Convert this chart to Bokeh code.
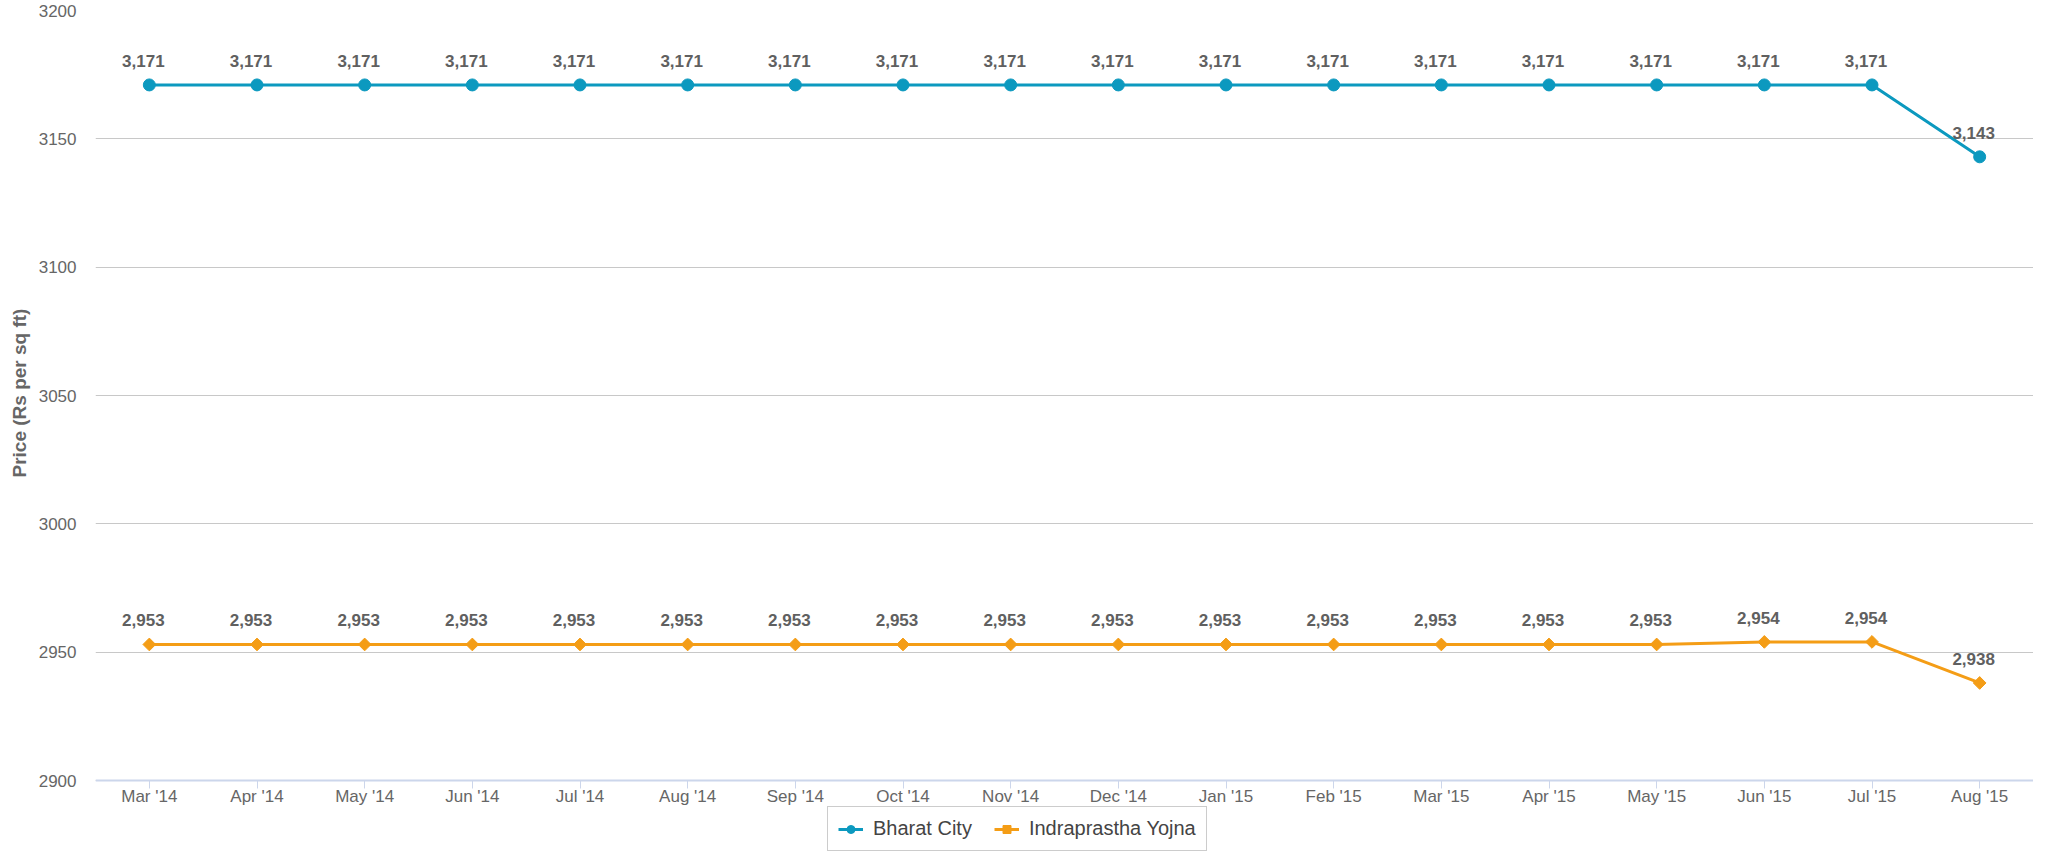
import math
from bokeh.plotting import figure
from bokeh.models import ColumnDataSource, LabelSet, Legend, LegendItem, SingleIntervalTicker, Range1d, Title
from bokeh.core.properties import value
from bokeh.embed import file_html
from bokeh.resources import INLINE

months = ["Mar '14", "Apr '14", "May '14", "Jun '14", "Jul '14", "Aug '14", "Sep '14",
          "Oct '14", "Nov '14", "Dec '14", "Jan '15", "Feb '15", "Mar '15", "Apr '15",
          "May '15", "Jun '15", "Jul '15", "Aug '15"]
bharat_city = [3171, 3171, 3171, 3171, 3171, 3171, 3171, 3171, 3171, 3171, 3171, 3171,
               3171, 3171, 3171, 3171, 3171, 3143]
indraprastha = [2953, 2953, 2953, 2953, 2953, 2953, 2953, 2953, 2953, 2953, 2953, 2953,
                2953, 2953, 2953, 2954, 2954, 2938]
y_min, y_max = 2900, 3200
y_title = "Price (Rs per sq ft)"

C_BC = "#0c99bf"
C_IY = "#f49d16"
FONT = "Liberation Sans"

# the frame extends below the axis minimum to leave room for the legend
H = 852
TOP = 10
AXIS_Y = 780          # screen row of y_min
extra = (H - AXIS_Y) * (y_max - y_min) / (AXIS_Y - TOP)

p = figure(x_range=months, y_range=Range1d(y_min - extra, y_max), width=2033, height=H,
           output_backend="svg", toolbar_location=None,
           min_border_left=88, min_border_right=0, min_border_top=TOP, min_border_bottom=0)
p.outline_line_color = None
p.background_fill_color = "white"
p.border_fill_color = "white"

src_bc = ColumnDataSource(dict(x=months, y=bharat_city, t=[f"{v:,}" for v in bharat_city]))
src_iy = ColumnDataSource(dict(x=months, y=indraprastha, t=[f"{v:,}" for v in indraprastha]))

l1 = p.line("x", "y", source=src_bc, color=C_BC, line_width=3)
s1 = p.scatter("x", "y", source=src_bc, marker="circle", size=12, color=C_BC)
l2 = p.line("x", "y", source=src_iy, color=C_IY, line_width=3)
s2 = p.scatter("x", "y", source=src_iy, marker="square", size=9, angle=math.pi / 4, color=C_IY)

for src in (src_bc, src_iy):
    lab = LabelSet(x="x", y="y", text="t", source=src, x_offset=-6, y_offset=18,
                   text_align="center", text_baseline="alphabetic",
                   text_font=value(FONT), text_font_size="17px", text_font_style="bold",
                   text_color="#606060")
    p.add_layout(lab)

# axes
p.xgrid.grid_line_color = None
p.ygrid.grid_line_color = "#c8c8c8"
p.ygrid.grid_line_width = 1
p.yaxis.ticker = SingleIntervalTicker(interval=50)
p.yaxis.axis_line_color = None
p.yaxis.major_tick_line_color = None
p.yaxis.minor_tick_line_color = None
p.yaxis.major_label_standoff = 13
p.yaxis.major_label_text_font = FONT
p.yaxis.major_label_text_font_size = "17px"
p.yaxis.major_label_text_color = "#666666"

# y-axis title, placed along the 2900-3200 span rather than the whole frame
ytitle = Title(text=y_title, align="left", offset=375, standoff=12,
               text_font=FONT, text_font_size="19px", text_font_style="bold",
               text_color="#666666")
p.add_layout(ytitle, "left")

p.xaxis.fixed_location = y_min
p.xaxis.axis_line_color = "#ccd6eb"
p.xaxis.axis_line_width = 2
p.xaxis.major_tick_line_color = "#ccd6eb"
p.xaxis.major_tick_in = 0
p.xaxis.major_tick_out = 8
p.xaxis.minor_tick_line_color = None
p.xaxis.major_label_standoff = -2
p.xaxis.major_label_text_font = FONT
p.xaxis.major_label_text_font_size = "17px"
p.xaxis.major_label_text_color = "#666666"

legend = Legend(items=[LegendItem(label="Bharat City", renderers=[l1, s1]),
                       LegendItem(label="Indraprastha Yojna", renderers=[l2, s2])],
                orientation="horizontal", location=(732, 1),
                label_text_font=FONT, label_text_font_size="20px", label_text_color="#444444",
                glyph_width=25, glyph_height=20, label_standoff=10, spacing=22,
                padding=10, margin=0,
                border_line_color="#999999", border_line_width=1,
                background_fill_color="white", background_fill_alpha=1.0)
p.add_layout(legend, "center")

open("out.html", "w").write(file_html(p, INLINE))
